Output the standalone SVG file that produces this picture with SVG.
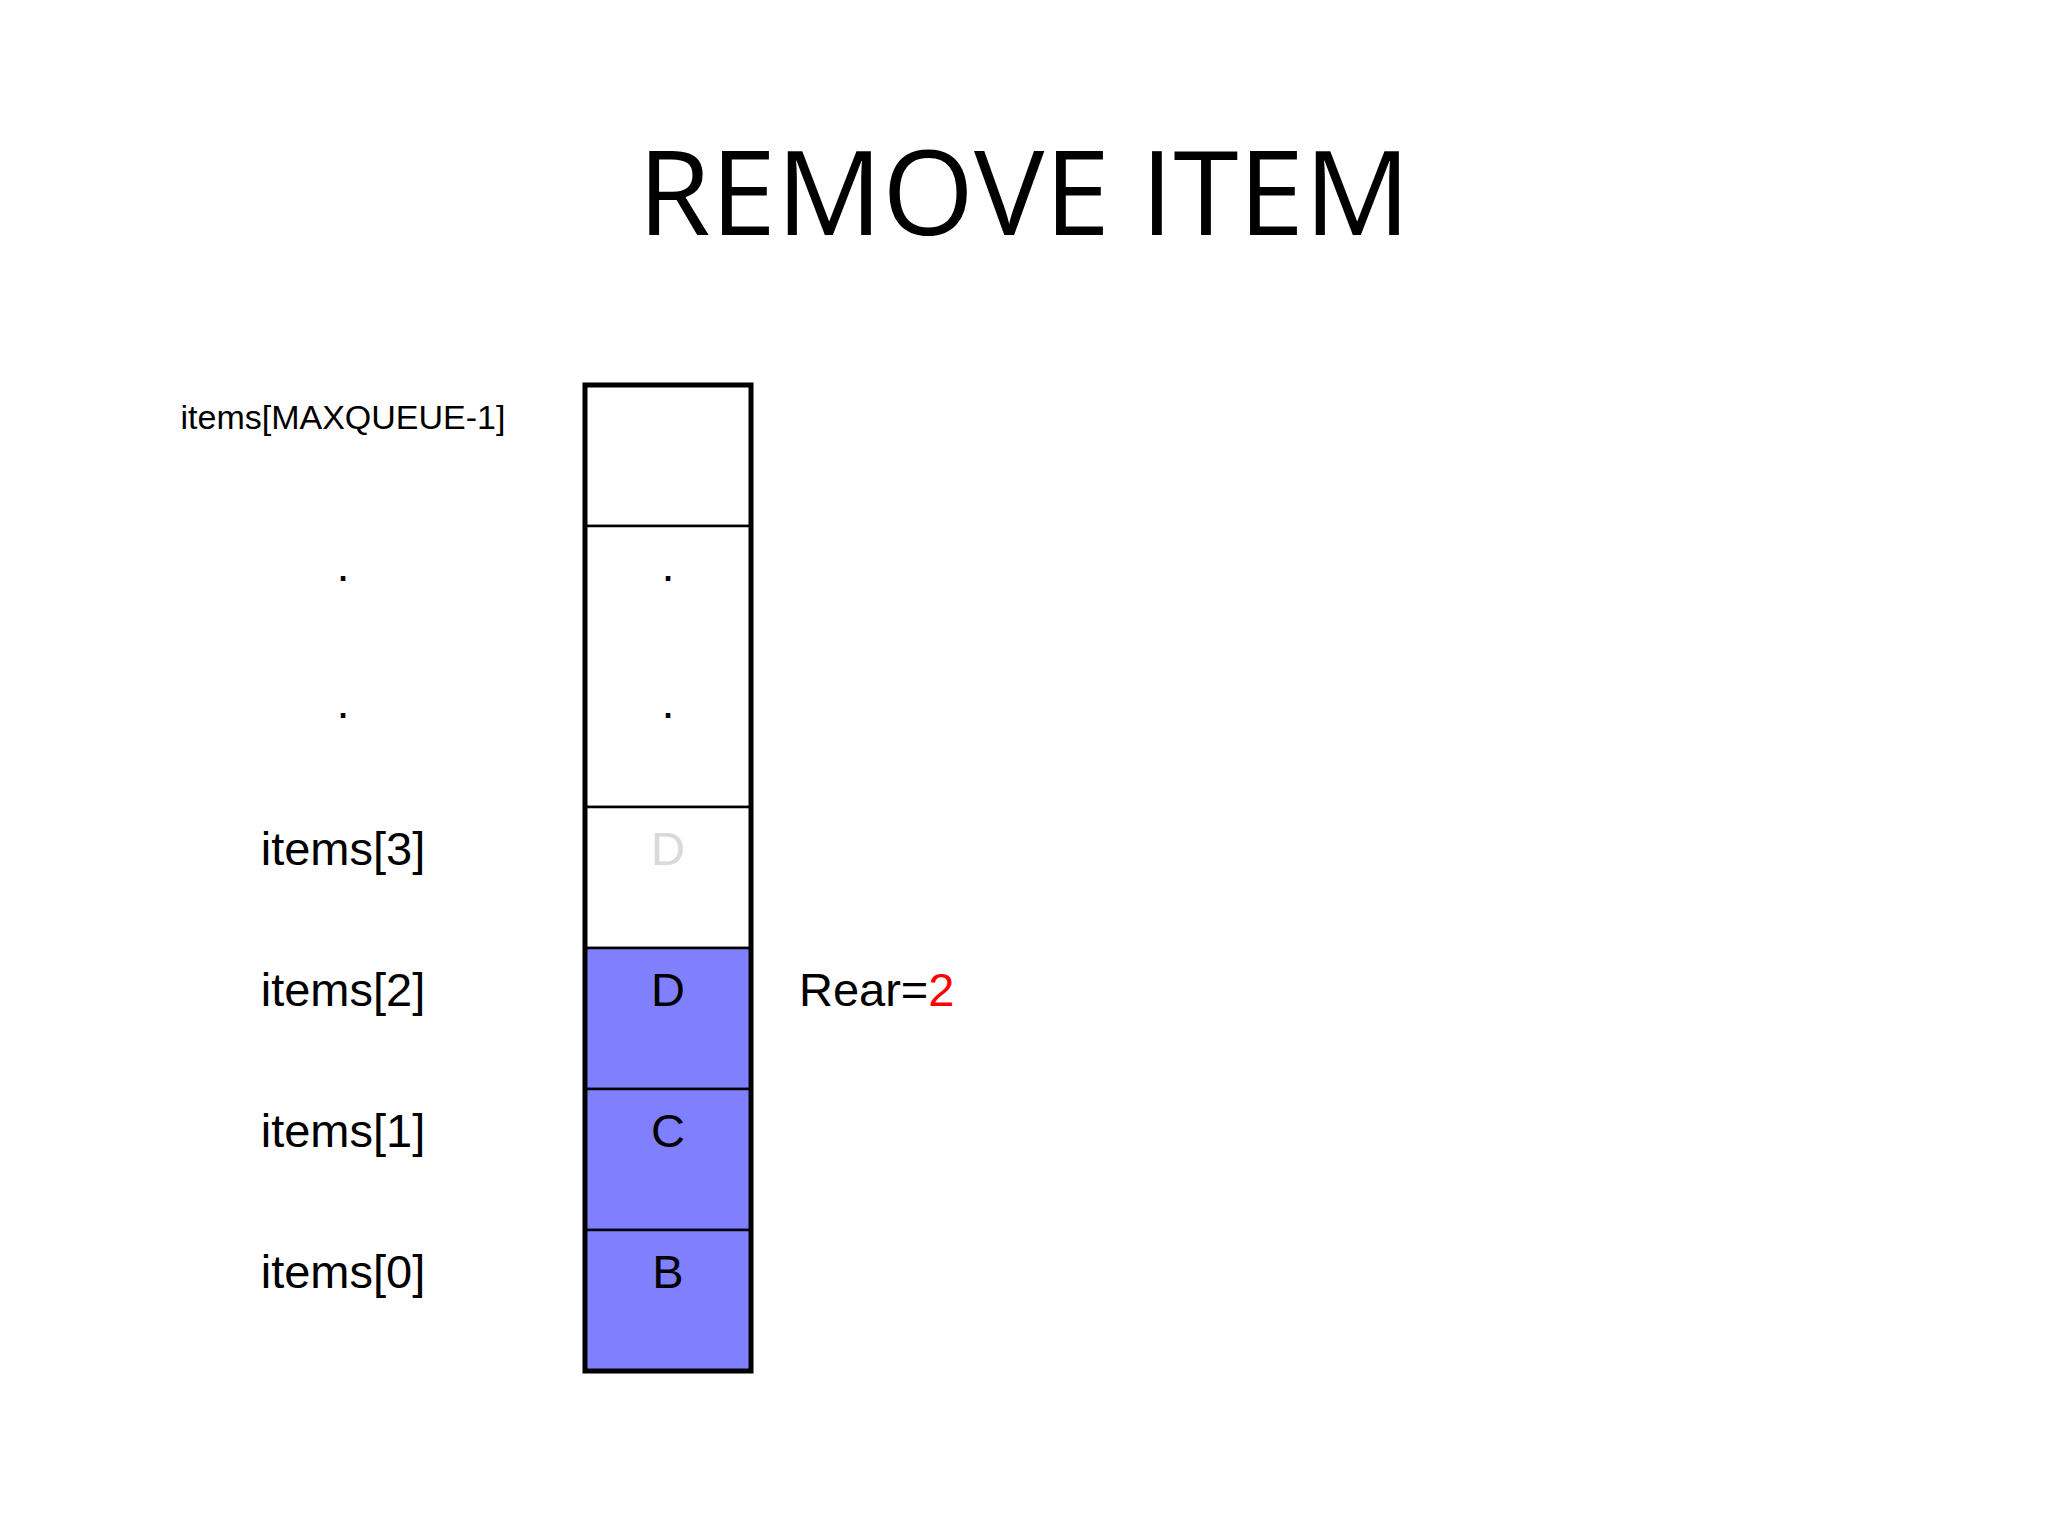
<svg xmlns="http://www.w3.org/2000/svg" width="2048" height="1536" viewBox="0 0 2048 1536">
<style>
text{font-family:"Liberation Sans",Arial,sans-serif;fill:#000}
.lbl{font-size:47px;text-anchor:middle}
.cell{fill:#fff;stroke:#000;stroke-width:2.5}
.blue{fill:#8080FF;stroke:#000;stroke-width:2.5}
</style>
<rect width="2048" height="1536" fill="#fff"/>
<text x="1024" y="235" font-family="Open Sans,sans-serif" font-size="118" text-anchor="middle" style="font-family:'Open Sans','Noto Sans',sans-serif">REMOVE ITEM</text>
<g id="array">
<rect class="cell" x="585" y="385" width="166" height="141"/>
<rect class="cell" x="585" y="526" width="166" height="281"/>
<rect class="cell" x="585" y="807" width="166" height="141"/>
<rect class="blue" x="585" y="948" width="166" height="141"/>
<rect class="blue" x="585" y="1089" width="166" height="141"/>
<rect class="blue" x="585" y="1230" width="166" height="141"/>
<rect x="585" y="385" width="166" height="986" fill="none" stroke="#000" stroke-width="5"/>
<text class="lbl" x="668" y="581">.</text>
<text class="lbl" x="668" y="718">.</text>
<text class="lbl" x="668" y="865" style="fill:#d9d9d9">D</text>
<text class="lbl" x="668" y="1006">D</text>
<text class="lbl" x="668" y="1147">C</text>
<text class="lbl" x="668" y="1288">B</text>
</g>
<g id="labels">
<text x="343" y="429" font-size="34" text-anchor="middle">items[MAXQUEUE-1]</text>
<text class="lbl" x="343" y="581">.</text>
<text class="lbl" x="343" y="718">.</text>
<text class="lbl" x="343" y="865">items[3]</text>
<text class="lbl" x="343" y="1006">items[2]</text>
<text class="lbl" x="343" y="1147">items[1]</text>
<text class="lbl" x="343" y="1288">items[0]</text>
</g>
<g id="rear">
<text x="799" y="1006" font-size="47">Rear=<tspan style="fill:#ff0000">2</tspan></text>
</g>
</svg>
